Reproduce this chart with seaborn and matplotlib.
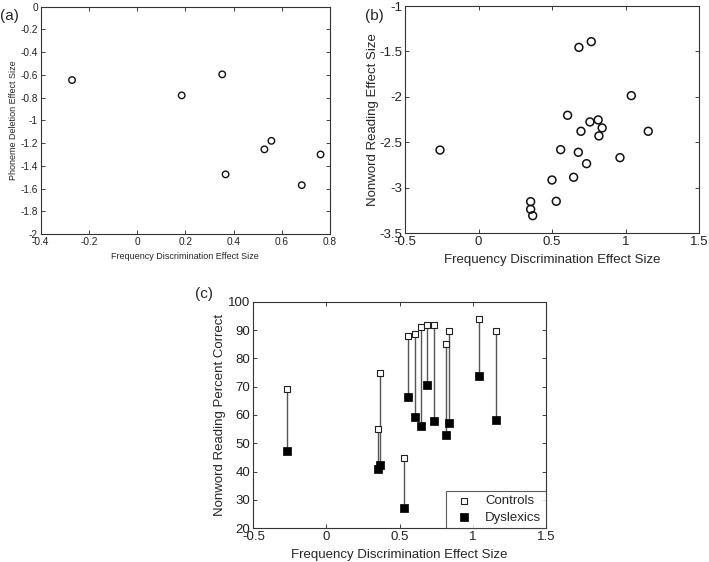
import matplotlib
matplotlib.use("Agg")
import matplotlib.pyplot as plt
import seaborn as sns
import numpy as np
import pandas as pd

# Panel (a): frequency discrimination vs phoneme deletion effect sizes
a_freq = [-0.27, 0.185, 0.353, 0.367, 0.528, 0.557, 0.683, 0.761]
a_phon = [-0.645, -0.78, -0.595, -1.475, -1.255, -1.18, -1.57, -1.30]

# Panel (b): frequency discrimination vs nonword reading effect sizes
b_freq = [-0.262, 0.682, 0.766, 1.038, 0.605, 0.757, 0.813, 0.840, 0.818, 0.696,
          1.153, 0.558, 0.678, 0.734, 0.961, 0.646, 0.499, 0.528, 0.354, 0.354, 0.368]
b_nonword = [-2.584, -1.455, -1.392, -1.986, -2.202, -2.275, -2.253, -2.341, -2.429, -2.378,
             -2.378, -2.58, -2.609, -2.734, -2.668, -2.884, -2.914, -3.148, -3.152, -3.236, -3.306]

# Panel (c): nonword reading percent correct, controls vs dyslexics
c_freq = [-0.27, 0.354, 0.368, 0.527, 0.559, 0.605, 0.646, 0.685, 0.735, 0.817, 0.839, 1.044, 1.158]
c_controls = [69.3, 54.9, 74.8, 44.9, 87.8, 88.5, 91.1, 91.8, 91.6, 85.0, 89.7, 93.8, 89.7]
c_dyslexics = [47.3, 41.0, 42.2, 27.1, 66.2, 59.4, 56.1, 70.6, 57.8, 52.8, 57.1, 73.6, 58.2]

sns.set_style("white")
plt.rcParams['font.family'] = ['Liberation Sans', 'DejaVu Sans']

fig = plt.figure(figsize=(7.09, 5.62), dpi=100)

def style_axes(ax, fs):
    for s in ax.spines.values():
        s.set_color('#333333')
        s.set_linewidth(0.8)
    ax.tick_params(direction='in', top=True, right=True, length=3, width=0.6,
                   labelsize=fs, colors='#222222', pad=2,
                   bottom=True, left=True)

# ---- (a)
ax_a = fig.add_axes([0.0574, 0.5836, 0.408, 0.4044])
df_a = pd.DataFrame({"freq": a_freq, "phon": a_phon})
sns.scatterplot(data=df_a, x="freq", y="phon", ax=ax_a, marker='o', s=22,
                facecolor='none', edgecolor='#111111', linewidth=1.0)
ax_a.set_xlim(-0.4, 0.8)
ax_a.set_ylim(-2, 0)
ax_a.set_xticks(np.arange(-0.4, 0.81, 0.2))
ax_a.set_xticklabels(["-0.4", "-0.2", "0", "0.2", "0.4", "0.6", "0.8"])
ax_a.set_yticks(np.arange(-2, 0.01, 0.2))
ax_a.set_yticklabels(["-2", "-1.8", "-1.6", "-1.4", "-1.2", "-1", "-0.8", "-0.6", "-0.4", "-0.2", "0"])
ax_a.set_xlabel("Frequency Discrimination Effect Size", fontsize=6.5, labelpad=4)
ax_a.set_ylabel("Phoneme Deletion Effect Size", fontsize=6.5, labelpad=2)
style_axes(ax_a, 7.3)
fig.text(0.0, 0.972, "(a)", fontsize=11, ha='left', va='center')

# ---- (b)
ax_b = fig.add_axes([0.5712, 0.5849, 0.4151, 0.4044])
df_b = pd.DataFrame({"freq": b_freq, "nonword": b_nonword})
sns.scatterplot(data=df_b, x="freq", y="nonword", ax=ax_b, marker='o', s=32,
                facecolor='none', edgecolor='#111111', linewidth=1.1)
ax_b.set_xlim(-0.5, 1.5)
ax_b.set_ylim(-3.5, -1)
ax_b.set_xticks([-0.5, 0, 0.5, 1, 1.5])
ax_b.set_xticklabels(["-0.5", "0", "0.5", "1", "1.5"])
ax_b.set_yticks([-3.5, -3, -2.5, -2, -1.5, -1])
ax_b.set_yticklabels(["-3.5", "-3", "-2.5", "-2", "-1.5", "-1"])
ax_b.set_xlabel("Frequency Discrimination Effect Size", fontsize=9.5, labelpad=4)
ax_b.set_ylabel("Nonword Reading Effect Size", fontsize=9.5, labelpad=0)
style_axes(ax_b, 9.5)
fig.text(0.515, 0.972, "(b)", fontsize=11, ha='left', va='center')

# ---- (c)
ax_c = fig.add_axes([0.3573, 0.06, 0.4128, 0.4032])
ax_c.vlines(c_freq, c_dyslexics, c_controls, color='#555555', linewidth=1.0, zorder=1)
df_c = pd.DataFrame({
    "freq": c_freq * 2,
    "pct": c_controls + c_dyslexics,
    "group": ["Controls"] * len(c_freq) + ["Dyslexics"] * len(c_freq),
})
ctrl = df_c[df_c.group == "Controls"]
dysl = df_c[df_c.group == "Dyslexics"]
sns.scatterplot(data=ctrl, x="freq", y="pct", ax=ax_c, marker='s', s=22,
                facecolor='white', edgecolor='#222222', linewidth=0.8, zorder=3,
                label="Controls")
sns.scatterplot(data=dysl, x="freq", y="pct", ax=ax_c, marker='s', s=30,
                color='black', edgecolor='black', linewidth=0.5, zorder=3,
                label="Dyslexics")
ax_c.set_xlim(-0.5, 1.5)
ax_c.set_ylim(20, 100)
ax_c.set_xticks([-0.5, 0, 0.5, 1, 1.5])
ax_c.set_xticklabels(["-0.5", "0", "0.5", "1", "1.5"])
ax_c.set_yticks(np.arange(20, 101, 10))
ax_c.set_xlabel("Frequency Discrimination Effect Size", fontsize=9.5, labelpad=4)
ax_c.set_ylabel("Nonword Reading Percent Correct", fontsize=9.5, labelpad=2)
style_axes(ax_c, 9.5)
leg = ax_c.legend(loc='lower right', fontsize=9.5, frameon=True, fancybox=False,
                  edgecolor='#333333', borderaxespad=0.0, handletextpad=0.6,
                  borderpad=0.35, labelspacing=0.3)
leg.get_frame().set_linewidth(0.8)
fig.text(0.275, 0.477, "(c)", fontsize=11, ha='left', va='center')

fig.savefig("out.png", dpi=100)
